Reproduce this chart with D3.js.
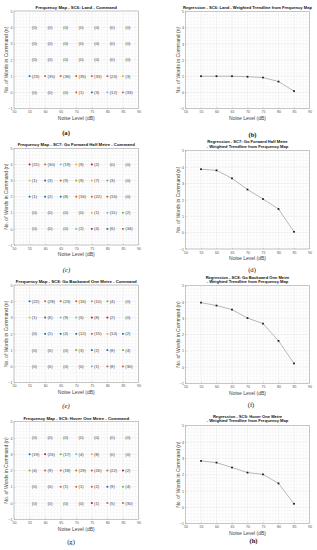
<!DOCTYPE html>
<html><head><meta charset="utf-8">
<script src="https://cdn.jsdelivr.net/npm/d3@7"></script>
<style>
html,body{margin:0;padding:0;background:#fff;}
svg{display:block;font-family:"Liberation Sans",Arial,sans-serif;}
</style></head>
<body>
<svg id="chart" width="317" height="550"></svg>
<script>
// ---------- data ----------
const noiseLevels = [55, 60, 65, 70, 75, 80, 85];
const wordLevels = [4, 3, 2, 1, 0];
const xTickValues = [50, 55, 60, 65, 70, 75, 80, 85, 90];
const yTickValues = [-1, 0, 1, 2, 3, 4, 5];

const freqTitles = [
  "Frequency Map - SC6: Land - Command",
  "Frequency Map - SC7: Go Forward Half Metre - Command",
  "Frequency Map - SC8: Go Backward One Metre - Command",
  "Frequency Map - SC9: Hover One Metre - Command"
];
const regTitles = [
  ["Regression - SC6: Land - Weighted Trendline from Frequency Map"],
  ["Regression - SC7: Go Forward Half Metre", "- Weighted Trendline from Frequency Map"],
  ["Regression - SC8: Go Backward One Metre", "- Weighted Trendline from Frequency Map"],
  ["Regression - SC9: Hover One Metre", "- Weighted Trendline from Frequency Map"]
];
const xAxisTitle = "Noise Level (dB)";
const yAxisTitle = "No. of Words in Command (n)";
const panelLetters = ["(a)", "(b)", "(c)", "(d)", "(e)", "(f)", "(g)", "(h)"];

// counts per word level (rows: 4,3,2,1,0) across noise levels
const sc6Counts = [
  [0, 0, 0, 0, 0, 0, 0],
  [0, 0, 0, 0, 0, 0, 0],
  [0, 0, 0, 0, 0, 0, 0],
  [23, 35, 36, 35, 33, 24, 3],
  [0, 0, 0, 1, 3, 12, 33]
];
const sc6Colors = ["-------", "-------", "-------", "boooooy", "---obco"];

const sc7Counts = [
  [21, 30, 19, 9, 2, 0, 0],
  [1, 3, 9, 9, 7, 3, 0],
  [1, 2, 8, 16, 22, 16, 0],
  [0, 0, 0, 0, 1, 11, 2],
  [0, 0, 0, 2, 4, 6, 34]
];
const sc7Colors = ["rocyr--", "ypogyg-", "bbbooo-", "----ycg", "---cpbo"];

const sc8Counts = [
  [22, 28, 23, 16, 10, 4, 0],
  [1, 6, 9, 5, 8, 2, 0],
  [0, 1, 4, 12, 15, 14, 2],
  [0, 0, 0, 3, 2, 8, 4],
  [0, 0, 0, 0, 1, 8, 30]
];
const sc8Colors = ["booogg-", "ypccrr-", "-bbboyb", "---gbbg", "----coo"];

const sc9Counts = [
  [0, 0, 0, 0, 0, 0, 0],
  [19, 26, 17, 4, 8, 0, 0],
  [4, 9, 18, 29, 26, 22, 2],
  [0, 0, 1, 1, 2, 9, 4],
  [0, 0, 0, 0, 1, 5, 30]
];
const sc9Colors = ["-------", "brgcy--", "gooooor", "--ooobg", "----roo"];

// weighted trendlines (mean words per noise level)
const sc6Trend = [1.0, 1.0, 1.0, 0.97, 0.92, 0.67, 0.08];
const sc7Trend = [3.87, 3.80, 3.31, 2.63, 2.05, 1.44, 0.05];
const sc8Trend = [3.96, 3.78, 3.53, 3.01, 2.67, 1.61, 0.22];
const sc9Trend = [2.84, 2.74, 2.44, 2.13, 2.02, 1.47, 0.22];

const freqCounts = [sc6Counts, sc7Counts, sc8Counts, sc9Counts];
const freqColors = [sc6Colors, sc7Colors, sc8Colors, sc9Colors];
const trends = [sc6Trend, sc7Trend, sc8Trend, sc9Trend];

// ---------- style / layout ----------
const colorMap = {b: "#0072BD", o: "#D95319", y: "#EDB120", p: "#7E2F8E", g: "#77AC30", c: "#4DBEEE", r: "#A2142F"};
const leftX = [14, 138.5];
const rightX = [185.5, 309.5];
const rowsLeft = [[11, 108.7], [148.3, 245], [285, 382.7], [421.7, 519.3]];
const rowsRight = [[11.5, 108.6], [150.7, 249], [285.7, 383.3], [425.7, 523.7]];
const leftTitleY = [7.2, 144.3, 281.7, 418.3];
const rightTitleY = [7.2, 141.8, 277.6, 416.6];
const letterPos = [[66, 133], [252.5, 135], [66.5, 270], [252, 270], [66, 406], [251, 405], [71, 542], [253.5, 541]];
const letterStyle = [["bold", "normal"], ["bold", "normal"], ["normal", "italic"], ["normal", "normal"], ["normal", "italic"], ["normal", "normal"], ["normal", "normal"], ["bold", "normal"]];

const svg = d3.select("#chart");

function drawAxesFrame(g, x, y, yLabelX) {
  const [x0, x1] = x.range();
  const [y1, y0] = y.range();
  // minor grid
  g.append("g").selectAll("line").data(d3.range(50, 91, 1).filter(v => v % 5 !== 0)).join("line")
    .attr("x1", d => x(d)).attr("x2", d => x(d)).attr("y1", y0).attr("y2", y1)
    .attr("stroke", "#f1f1f1").attr("stroke-width", 0.4);
  g.append("g").selectAll("line").data(d3.range(-1, 5.001, 0.2).filter(v => Math.abs(v - Math.round(v)) > 0.01)).join("line")
    .attr("x1", x0).attr("x2", x1).attr("y1", d => y(d)).attr("y2", d => y(d))
    .attr("stroke", "#f1f1f1").attr("stroke-width", 0.4);
  // major grid
  g.append("g").selectAll("line").data(xTickValues).join("line")
    .attr("x1", d => x(d)).attr("x2", d => x(d)).attr("y1", y0).attr("y2", y1)
    .attr("stroke", "#e2e2e2").attr("stroke-width", 0.45);
  g.append("g").selectAll("line").data(yTickValues).join("line")
    .attr("x1", x0).attr("x2", x1).attr("y1", d => y(d)).attr("y2", d => y(d))
    .attr("stroke", "#e2e2e2").attr("stroke-width", 0.45);
  // box
  g.append("rect").attr("x", x0).attr("y", y0).attr("width", x1 - x0).attr("height", y1 - y0)
    .attr("fill", "none").attr("stroke", "#9a9a9a").attr("stroke-width", 0.5);
  // axes via d3
  const xa = d3.axisBottom(x).tickValues(xTickValues).tickSize(-1.2).tickPadding(2.2).tickFormat(d3.format("d"));
  const ya = d3.axisLeft(y).tickValues(yTickValues).tickSize(-1.2).tickPadding(1.6).tickFormat(d3.format("d"));
  const gx = g.append("g").attr("transform", `translate(0,${y1})`).call(xa);
  const gy = g.append("g").attr("transform", `translate(${x0},0)`).call(ya);
  [gx, gy].forEach(a => {
    a.select(".domain").remove();
    a.selectAll(".tick line").attr("stroke", "#9a9a9a").attr("stroke-width", 0.4);
    a.selectAll(".tick text").attr("font-size", 3.6).attr("fill", "#555").attr("font-family", "Liberation Sans, Arial, sans-serif");
  });
  gx.selectAll(".tick text").attr("dy", "0.71em");
  // axis titles
  g.append("text").attr("x", (x0 + x1) / 2).attr("y", y1 + 11.3).attr("text-anchor", "middle")
    .attr("font-size", 5).attr("fill", "#444").text(xAxisTitle);
  g.append("text").attr("transform", `translate(${yLabelX},${(y0 + y1) / 2}) rotate(-90)`)
    .attr("text-anchor", "middle").attr("dy", "0.35em").attr("font-size", 5).attr("fill", "#444").text(yAxisTitle);
}

for (let i = 0; i < 4; i++) {
  // ----- frequency map (left) -----
  {
    const x = d3.scaleLinear().domain([50, 90]).range(leftX);
    const y = d3.scaleLinear().domain([-1, 5]).range([rowsLeft[i][1], rowsLeft[i][0]]);
    const g = svg.append("g");
    drawAxesFrame(g, x, y, 6.7);
    const cells = [];
    wordLevels.forEach((w, r) => noiseLevels.forEach((n, c) => {
      cells.push({n, w, count: freqCounts[i][r][c], col: freqColors[i][r][c]});
    }));
    g.append("g").selectAll("rect").data(cells.filter(d => d.col !== "-")).join("rect")
      .attr("x", d => x(d.n) - 0.85).attr("y", d => y(d.w) - 0.85)
      .attr("width", 1.7).attr("height", 1.7).attr("fill", d => colorMap[d.col]);
    g.append("g").selectAll("text").data(cells).join("text")
      .attr("x", d => x(d.n) + 2.3).attr("y", d => y(d.w)).attr("dy", "0.35em")
      .attr("font-size", 4.2).attr("fill", "#444").text(d => `(${d.count})`);
    g.append("text").attr("x", (leftX[0] + leftX[1]) / 2).attr("y", leftTitleY[i]).attr("dy", "0.35em")
      .attr("text-anchor", "middle").attr("font-size", 4.3).attr("font-weight", "bold").attr("fill", "#111")
      .text(freqTitles[i]);
  }
  // ----- regression (right) -----
  {
    const x = d3.scaleLinear().domain([50, 90]).range(rightX);
    const y = d3.scaleLinear().domain([-1, 5]).range([rowsRight[i][1], rowsRight[i][0]]);
    const g = svg.append("g");
    drawAxesFrame(g, x, y, 178);
    const pts = noiseLevels.map((n, k) => ({n, v: trends[i][k]}));
    g.append("path").datum(pts)
      .attr("d", d3.line().x(d => x(d.n)).y(d => y(d.v)))
      .attr("fill", "none").attr("stroke", "#8c8c8c").attr("stroke-width", 0.6);
    g.append("g").selectAll("rect").data(pts).join("rect")
      .attr("x", d => x(d.n) - 0.85).attr("y", d => y(d.v) - 0.85)
      .attr("width", 1.7).attr("height", 1.7).attr("fill", "#111");
    const t = g.append("text").attr("text-anchor", "middle").attr("font-size", 4.1)
      .attr("font-weight", "bold").attr("fill", "#111");
    regTitles[i].forEach((line, k) => {
      t.append("tspan").attr("x", (rightX[0] + rightX[1]) / 2).attr("y", rightTitleY[i] + k * 4.4)
        .attr("dy", "0.35em").text(line);
    });
  }
}

// panel letters
svg.append("g").selectAll("text").data(panelLetters).join("text")
  .attr("x", (d, k) => letterPos[k][0]).attr("y", (d, k) => letterPos[k][1]).attr("dy", "0.35em")
  .attr("text-anchor", "middle").attr("font-family", "Liberation Serif, Times New Roman, serif")
  .attr("font-size", 6.6).attr("fill", "#111")
  .attr("font-weight", (d, k) => letterStyle[k][0]).attr("font-style", (d, k) => letterStyle[k][1])
  .text(d => d);
</script>
</body></html>
